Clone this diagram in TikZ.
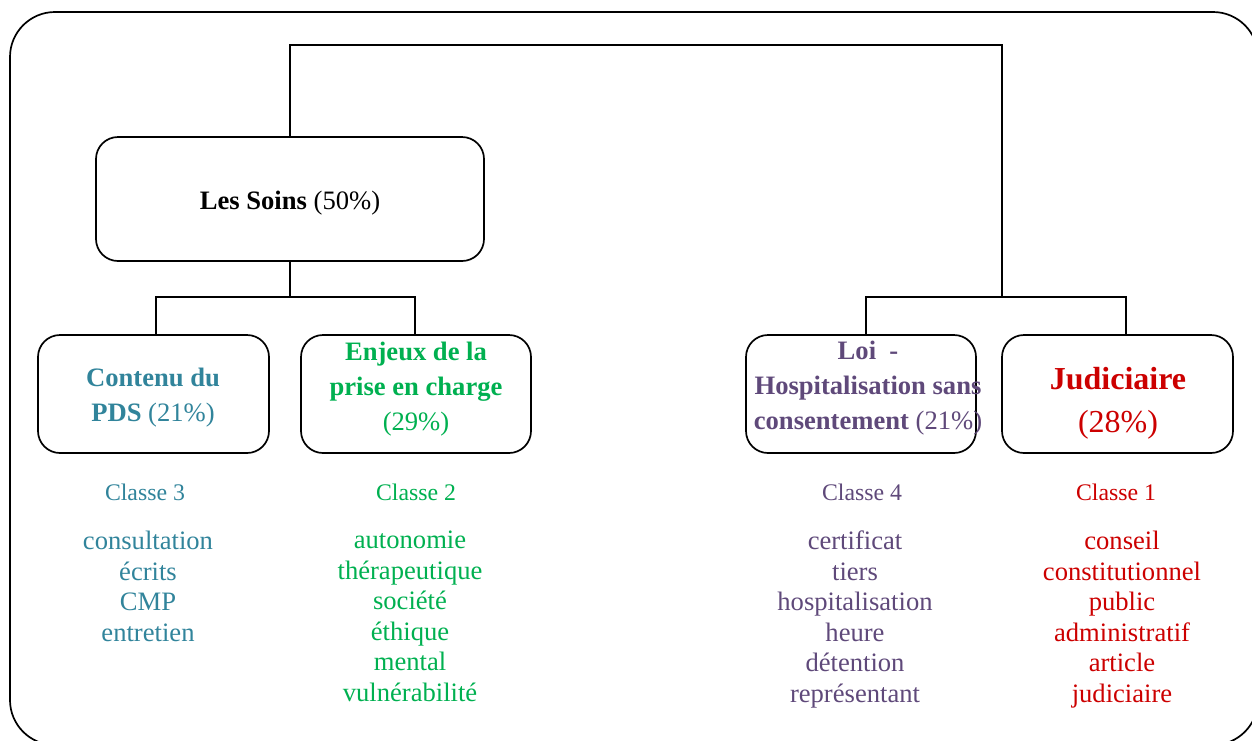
\documentclass[tikz,border=0pt]{standalone}
\usepackage{fontspec}
\setmainfont{Liberation Serif}
\definecolor{cteal}{HTML}{31849B}
\definecolor{cgreen}{HTML}{00B050}
\definecolor{cpurple}{HTML}{5F497A}
\definecolor{cred}{HTML}{CC0000}
\begin{document}
\begin{tikzpicture}[x=1pt,y=-1pt,
  boxstyle/.style={draw,line width=1.7pt,rounded corners=22pt,inner sep=0pt},
  conn/.style={line width=1.5pt},
  boxtext/.style={align=center,inner sep=0pt,font=\fontsize{26.6}{35}\selectfont},
  classetext/.style={inner sep=0pt,font=\fontsize{23.8}{28}\selectfont},
  wordtext/.style={align=center,inner sep=0pt,anchor=north,font=\fontsize{26.6}{30.5}\selectfont}]
\useasboundingbox (0,0) rectangle (1252,740);
\begin{scope}
\clip (0,0) rectangle (1252,740);
\draw[line width=1.7pt,rounded corners=45pt] (10,12) rectangle (1258,745);
\end{scope}
% boxes
\node[boxstyle,minimum width=388pt,minimum height=124pt] (soins) at (290,199) {};
\node[boxstyle,minimum width=231pt,minimum height=118pt] (contenu) at (153.5,394) {};
\node[boxstyle,minimum width=230pt,minimum height=118pt] (enjeux) at (416,394) {};
\node[boxstyle,minimum width=230pt,minimum height=118pt] (loi) at (861,394) {};
\node[boxstyle,minimum width=231pt,minimum height=118pt] (judi) at (1117.5,394) {};
% texts in boxes
\node[boxtext] (tsoins) at (290,203) {\textbf{Les Soins} (50\%)};
\node[boxtext,text=cteal] (tcontenu) at (153,398) {\textbf{Contenu du}\\\textbf{PDS} (21\%)};
\node[boxtext,text=cgreen] (tenjeux) at (416,389) {\textbf{Enjeux de la}\\\textbf{prise en charge}\\(29\%)};
\node[boxtext,text=cpurple] (tloi) at (868,388) {\textbf{Loi\ \ -}\\\textbf{Hospitalisation sans}\\\textbf{consentement} (21\%)};
\node[boxtext,text=cred,font=\fontsize{32}{43}\selectfont] (tjudi) at (1118,403.5) {\textbf{Judiciaire}\\(28\%)};
% connectors
\coordinate (topL) at (290,45);
\coordinate (topR) at (1002,45);
\coordinate (barL) at (290,297);
\coordinate (barR) at (1002,297);
\draw[conn] (soins.north) -- (topL) -- (topR) -- (barR);
\draw[conn] (soins.south) -- (barL);
\draw[conn] (contenu.north -| 156,0) |- (barL) -| (enjeux.north -| 415,0);
\draw[conn] (loi.north -| 866,0) |- (barR) -| (judi.north -| 1126,0);
% classes
\node[classetext,text=cteal] (c3) at (145,492) {Classe 3};
\node[classetext,text=cgreen] (c2) at (416,492) {Classe 2};
\node[classetext,text=cpurple] (c4) at (862,492) {Classe 4};
\node[classetext,text=cred] (c1) at (1116,492) {Classe 1};
% word lists
\node[wordtext,text=cteal] (w3) at (148,531) {consultation\\écrits\\CMP\\entretien};
\node[wordtext,text=cgreen] (w2) at (410,531) {autonomie\\thérapeutique\\société\\éthique\\mental\\vulnérabilité};
\node[wordtext,text=cpurple] (w4) at (855,531) {certificat\\tiers\\hospitalisation\\heure\\détention\\représentant};
\node[wordtext,text=cred] (w1) at (1122,531) {conseil\\constitutionnel\\public\\administratif\\article\\judiciaire};
\end{tikzpicture}
\end{document}
